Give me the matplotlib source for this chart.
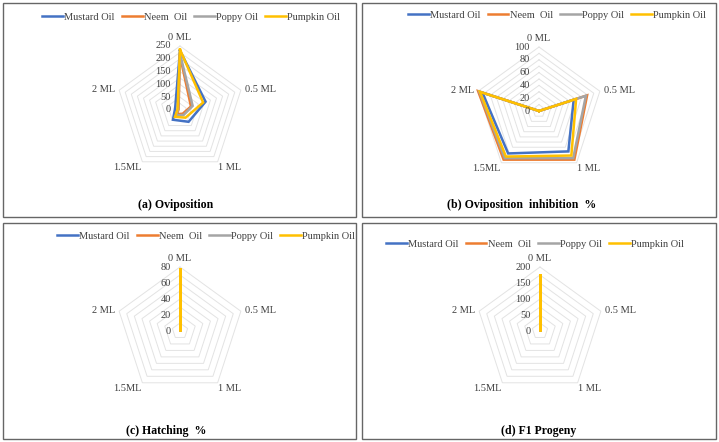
import numpy as np
import matplotlib
matplotlib.use('Agg')
import matplotlib.pyplot as plt
from matplotlib.patches import Rectangle
from matplotlib.lines import Line2D
import matplotlib.transforms as mtransforms

plt.rcParams['font.family'] = ['Liberation Serif', 'DejaVu Serif']

W, H, DPI = 719, 442, 100

categories = ['0 ML', '0.5 ML', '1 ML', '1.5ML', '2 ML']
series_names = ['Mustard Oil', 'Neem  Oil', 'Poppy Oil', 'Pumpkin Oil']
colors = ['#4472C4', '#ED7D31', '#A5A5A5', '#FFC000']

# (a) Oviposition
ovi_mustard = [232, 105, 57, 47, 20]
ovi_neem = [212, 45, 18, 20, 6]
ovi_poppy = [220, 52, 24, 26, 8]
ovi_pumpkin = [236, 95, 37, 33, 10]

# (b) Oviposition inhibition %
inh_mustard = [0, 57, 78, 82, 93]
inh_neem = [0, 79, 94, 94, 100]
inh_poppy = [0, 77, 91, 91, 98]
inh_pumpkin = [0, 61, 86, 88, 97]

# (c) Hatching %
hat_mustard = [77, 0, 0, 0, 0]
hat_neem = [77, 0, 0, 0, 0]
hat_poppy = [77, 0, 0, 0, 0]
hat_pumpkin = [77, 0, 0, 0, 0]

# (d) F1 Progeny
f1_mustard = [175, 0, 0, 0, 0]
f1_neem = [175, 0, 0, 0, 0]
f1_poppy = [175, 0, 0, 0, 0]
f1_pumpkin = [175, 0, 0, 0, 0]

ticks_a = [0, 50, 100, 150, 200, 250]
ticks_b = [0, 20, 40, 60, 80, 100]
ticks_c = [0, 20, 40, 60, 80]
ticks_d = [0, 50, 100, 150, 200]

titles = ['(a) Oviposition', '(b) Oviposition  inhibition  %',
          '(c) Hatching  %', '(d) F1 Progeny']

panels = [
    dict(data=[ovi_mustard, ovi_neem, ovi_poppy, ovi_pumpkin], ticks=ticks_a,
         box=(3, 3, 356, 217), center=(180, 110), leg=(191, 17), title=(176, 205)),
    dict(data=[inh_mustard, inh_neem, inh_poppy, inh_pumpkin], ticks=ticks_b,
         box=(362, 3, 716, 217), center=(539, 111), leg=(557, 15), title=(522, 205)),
    dict(data=[hat_mustard, hat_neem, hat_poppy, hat_pumpkin], ticks=ticks_c,
         box=(3, 223, 356, 439), center=(180, 331), leg=(206, 236), title=(166, 431)),
    dict(data=[f1_mustard, f1_neem, f1_poppy, f1_pumpkin], ticks=ticks_d,
         box=(362, 223, 716, 439), center=(540, 331), leg=(535, 244), title=(539, 431)),
]

fig = plt.figure(figsize=(W / DPI, H / DPI), dpi=DPI)
fig.patch.set_facecolor('white')

R = 64
N = len(categories)
angles = np.arange(N) * 2 * np.pi / N
closed = np.append(angles, angles[0])

label_style = [('center', 'bottom', 1.07), ('left', 'center', 1.06),
               ('left', 'top', 1.02), ('right', 'top', 1.02), ('right', 'center', 1.06)]

for i, p in enumerate(panels):
    x0, y0, x1, y1 = p['box']
    fig.add_artist(Rectangle((x0 / W, 1 - y1 / H), (x1 - x0) / W, (y1 - y0) / H,
                             transform=fig.transFigure, fill=False,
                             ec='#666666', lw=1.0))
    cx, cy = p['center']
    ax = fig.add_axes([(cx - R) / W, 1 - (cy + R) / H, 2 * R / W, 2 * R / H],
                      projection='polar')
    ax.set_theta_offset(np.pi / 2)
    ax.set_theta_direction(-1)
    rmax = p['ticks'][-1]
    step = (p['ticks'][1] - p['ticks'][0]) / 2
    ax.set_ylim(0, rmax)
    ax.axis('off')
    # grid rings
    for r in np.arange(step, rmax + step / 2, step):
        ax.plot(closed, [r] * (N + 1), color='#E3E3E3', lw=0.7, zorder=1, clip_on=False)
    # series
    for vals, c in zip(p['data'], colors):
        v = np.append(vals, vals[0])
        ax.plot(closed, v, color=c, lw=1.8, zorder=3, clip_on=False,
                solid_joinstyle='miter')
    # radial tick labels
    off = mtransforms.offset_copy(ax.transData, fig=fig, x=-9, y=0, units='dots')
    for t in p['ticks']:
        ax.text(0, t, str(t), transform=off, ha='right', va='center',
                fontsize=7.5, color='#404040', zorder=4)
    # category labels
    for a, lab, (ha, va, f) in zip(angles, categories, label_style):
        ax.text(a, rmax * f, lab, ha=ha, va=va, fontsize=7.5, color='#404040')
    # legend
    handles = [Line2D([], [], color=c, lw=1.8) for c in colors]
    lx, ly = p['leg']
    fig.legend(handles, series_names, loc='center', bbox_to_anchor=(lx / W, 1 - ly / H),
               ncol=4, frameon=False, fontsize=7.5, handlelength=2.0,
               handletextpad=0.1, columnspacing=0.7, borderpad=0, labelcolor='#404040')
    tx, ty = p['title']
    fig.text(tx / W, 1 - ty / H, titles[i], ha='center', va='center',
             fontsize=8.5, fontweight='bold', color='#000000')

fig.savefig('out.png', dpi=DPI)
